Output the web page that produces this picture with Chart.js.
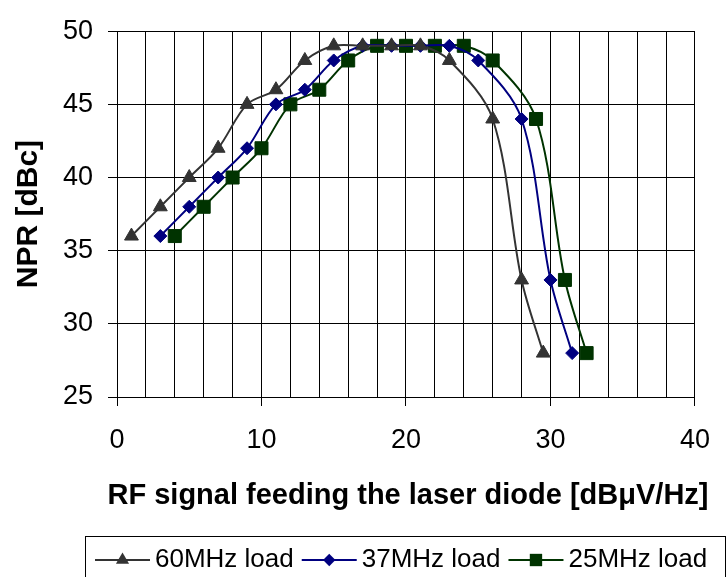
<!DOCTYPE html>
<html>
<head>
<meta charset="utf-8">
<script src="https://cdn.jsdelivr.net/npm/chart.js@4"></script>
<style>
  body { margin: 0; background: #fff; }
  #wrap { width: 728px; height: 577px; }
</style>
</head>
<body>
<div id="wrap"><canvas id="npr" width="728" height="577"></canvas></div>
<script>
// NPR vs RF level, one array per series
var load60X = [1, 3, 5, 7, 9, 11, 13, 15, 17, 19, 21, 23, 26, 28, 29.5];
var load60Y = [36, 38, 40, 42, 45, 46, 48, 49, 49, 49, 49, 48, 44, 33, 28];
var load37X = [3, 5, 7, 9, 11, 13, 15, 17, 19, 21, 23, 25, 28, 30, 31.5];
var load37Y = [36, 38, 40, 42, 45, 46, 48, 49, 49, 49, 49, 48, 44, 33, 28];
var load25X = [4, 6, 8, 10, 12, 14, 16, 18, 20, 22, 24, 26, 29, 31, 32.5];
var load25Y = [36, 38, 40, 42, 45, 46, 48, 49, 49, 49, 49, 48, 44, 33, 28];
var seriesNames = ["60MHz load", "37MHz load", "25MHz load"];
var xLabelTicks = [0, 10, 20, 30, 40];
var yTicks = [25, 30, 35, 40, 45, 50];
var xTitle = "RF signal feeding the laser diode [dBμV/Hz]";

function pts(xs, ys) {
    return xs.map(function (x, i) { return { x: x, y: ys[i] }; });
}

var FONT = "'Liberation Sans', Arial, sans-serif";

function series(label, data, color, style, radius) {
    return {
        label: label,
        data: data,
        borderColor: color,
        backgroundColor: color,
        borderWidth: 2,
        pointStyle: style,
        pointRadius: radius,
        pointBorderWidth: 1,
        pointBorderColor: color,
        pointBackgroundColor: color,
        tension: 0.33,
        showLine: true
    };
}

// x title is wider than the plot, and the boxed legend
var extras = {
    id: "extras",
    afterDraw: function (chart) {
        var ctx = chart.ctx;
        var area = chart.chartArea;
        ctx.save();
        ctx.fillStyle = "#000";
        ctx.textAlign = "center";
        ctx.textBaseline = "middle";
        ctx.font = "bold 29px " + FONT;
        ctx.fillText(xTitle, (area.left + area.right) / 2 + 2, 496);

        ctx.textAlign = "left";
        ctx.strokeStyle = "#000";
        ctx.lineWidth = 1;
        ctx.strokeRect(85.5, 536.5, 640, 45);
        ctx.font = "26px " + FONT;
        var x = 95, y = 560;
        chart.data.datasets.forEach(function (ds) {
            ctx.strokeStyle = ds.borderColor;
            ctx.lineWidth = 2;
            ctx.beginPath();
            ctx.moveTo(x, y);
            ctx.lineTo(x + 55, y);
            ctx.stroke();
            ctx.fillStyle = ds.pointBackgroundColor;
            ctx.strokeStyle = ds.pointBorderColor;
            ctx.lineWidth = 1;
            Chart.helpers.drawPoint(ctx, { pointStyle: ds.pointStyle, radius: ds.pointRadius * 0.95, rotation: 0 }, x + 27.5, y);
            ctx.fillStyle = "#000";
            ctx.fillText(ds.label, x + 60, y);
            x += 60 + ctx.measureText(ds.label).width + 8;
        });
        ctx.restore();
    }
};

var ctx1 = document.getElementById("npr").getContext("2d");
var nprChart = new Chart(ctx1, {
    type: "scatter",
    data: {
        datasets: [
            series(seriesNames[0], pts(load60X, load60Y), "#333333", "triangle", 8),
            series(seriesNames[1], pts(load37X, load37Y), "#000080", "rectRot", 6.5),
            series(seriesNames[2], pts(load25X, load25Y), "#003300", "rect", 9.2)
        ]
    },
    options: {
        responsive: false,
        animation: false,
        layout: { padding: { left: 0, right: 16, top: 21, bottom: 0 } },
        plugins: {
            legend: { display: false },
            tooltip: { enabled: false }
        },
        scales: {
            x: {
                type: "linear",
                min: 0,
                max: 40,
                afterFit: function (s) { s.height = 180; },
                grid: {
                    color: "#000",
                    lineWidth: 1,
                    tickLength: 9,
                    tickColor: function (c) {
                        return xLabelTicks.indexOf(c.tick.value) >= 0 ? "#000" : "rgba(0,0,0,0)";
                    }
                },
                border: { color: "#000", width: 1 },
                ticks: {
                    stepSize: 2,
                    autoSkip: false,
                    maxRotation: 0,
                    padding: 18,
                    color: "#000",
                    font: { family: FONT, size: 27 },
                    callback: function (v) { return xLabelTicks.indexOf(v) >= 0 ? v : ""; }
                }
            },
            y: {
                min: 25,
                max: 50,
                afterFit: function (s) { s.width = 117; },
                afterBuildTicks: function (s) {
                    s.ticks = yTicks.map(function (v) { return { value: v }; });
                },
                grid: { color: "#000", lineWidth: 1, tickLength: 9 },
                border: { color: "#000", width: 1 },
                ticks: {
                    padding: 15,
                    color: "#000",
                    font: { family: FONT, size: 27 }
                },
                title: {
                    display: true,
                    text: "NPR [dBc]",
                    color: "#000",
                    font: { family: FONT, size: 30, weight: "bold" },
                    padding: { top: 11, bottom: 0 }
                }
            }
        }
    },
    plugins: [extras]
});
</script>
</body>
</html>
